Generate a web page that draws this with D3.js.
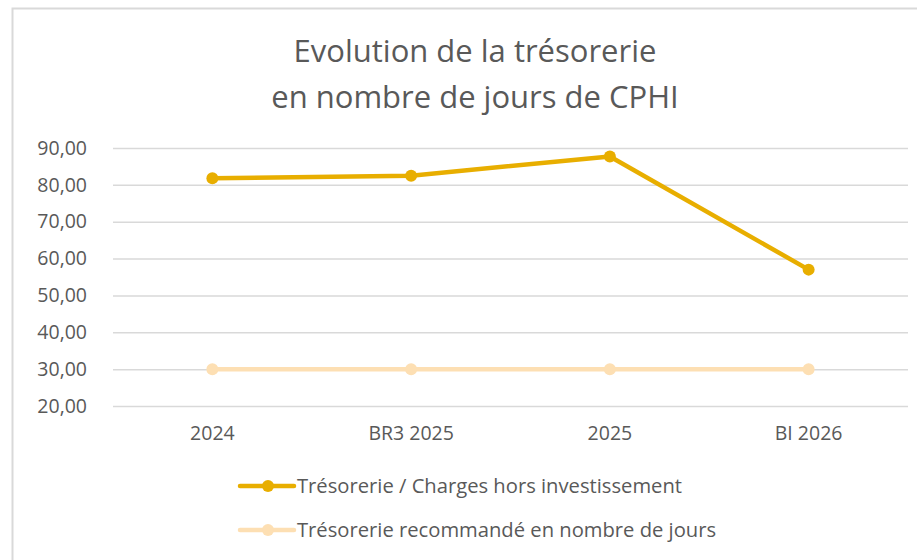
<!DOCTYPE html>
<html>
<head>
<meta charset="utf-8">
<script src="https://cdn.jsdelivr.net/npm/d3@7"></script>
<style>
    body { margin: 0; background: #fff; }
    svg { display: block; font-family: "Open Sans", sans-serif; }
    .grid-lines line { stroke: #d9d9d9; stroke-width: 1.5; }
    .yAxis text, .xAxis text { fill: #595959; font-size: 19.5px; font-family: "Open Sans", sans-serif; }
</style>
</head>
<body>
<div id="chart"></div>
<script>
// data
var categories = ["2024", "BR3 2025", "2025", "BI 2026"];
var tresorerie = [81.8, 82.5, 87.7, 57.0];
var recommande = [30, 30, 30, 30];
var yTicks = [20, 30, 40, 50, 60, 70, 80, 90];
var seriesNames = ["Trésorerie / Charges hors investissement", "Trésorerie recommandé en nombre de jours"];
var titleLines = ["Evolution de la trésorerie", "en nombre de jours de CPHI"];

var W = 917, H = 560;
var margin = { top: 148, right: 9, bottom: 154, left: 113 }
    , width = W - margin.left - margin.right
    , height = H - margin.top - margin.bottom;

var colors = ["#E8AE00", "#FDDFB3"];

var svg = d3.select("#chart").append("svg")
    .attr("width", W)
    .attr("height", H);

//Chart frame
svg.append("rect")
    .attr("x", 12.5).attr("y", 8.5)
    .attr("width", 1000).attr("height", 1000)
    .attr("fill", "#fff")
    .attr("stroke", "#d9d9d9")
    .attr("stroke-width", 2);

//Title
svg.append("g").selectAll("text")
    .data(titleLines)
    .enter().append("text")
    .attr("x", 475)
    .attr("y", (d, i) => 62 + i * 46)
    .attr("text-anchor", "middle")
    .attr("fill", "#595959")
    .style("font-size", "31px")
    .text(d => d);

var g = svg.append("g")
    .attr("transform", "translate(" + margin.left + "," + margin.top + ")");

var xScale = d3.scaleBand()
    .domain(categories)
    .range([0, width]);

var yScale = d3.scaleLinear()
    .domain([20, 90])
    .range([height, 0]);

var fmt = d => d3.format(".2f")(d).replace(".", ",");

//Horizontal grid lines
g.append("g")
    .attr("class", "grid-lines")
    .call(d3.axisLeft(yScale).tickValues(yTicks).tickSize(-width).tickFormat(""))
    .call(g => g.select(".domain").remove());

//Y axis labels
g.append("g")
    .attr("class", "yAxis")
    .call(d3.axisLeft(yScale).tickValues(yTicks).tickSize(0).tickPadding(26).tickFormat(fmt))
    .call(g => g.select(".domain").remove());

//X axis labels
g.append("g")
    .attr("class", "xAxis")
    .attr("transform", "translate(0," + height + ")")
    .call(d3.axisBottom(xScale).tickSize(0).tickPadding(20))
    .call(g => g.select(".domain").remove());

var line = d3.line()
    .x((d, i) => xScale(categories[i]) + xScale.bandwidth() / 2)
    .y(d => yScale(d));

[recommande, tresorerie].forEach(function (series) {
    var c = series === tresorerie ? colors[0] : colors[1];
    g.append("path")
        .datum(series)
        .attr("fill", "none")
        .attr("stroke", c)
        .attr("stroke-width", 4.5)
        .attr("stroke-linejoin", "round")
        .attr("d", line);
    g.selectAll(null)
        .data(series)
        .enter().append("circle")
        .attr("cx", (d, i) => xScale(categories[i]) + xScale.bandwidth() / 2)
        .attr("cy", d => yScale(d))
        .attr("r", 6)
        .attr("fill", c);
});

//Legend
var legend = svg.append("g").selectAll("g")
    .data(seriesNames)
    .enter().append("g")
    .attr("transform", (d, i) => "translate(240," + (486 + i * 44) + ")");

legend.append("line")
    .attr("x1", 0).attr("x2", 54)
    .attr("stroke", (d, i) => colors[i])
    .attr("stroke-width", 4.5)
    .attr("stroke-linecap", "round");

legend.append("circle")
    .attr("cx", 28)
    .attr("r", 6)
    .attr("fill", (d, i) => colors[i]);

legend.append("text")
    .attr("x", 57)
    .attr("dy", "0.35em")
    .attr("fill", "#595959")
    .style("font-size", "20.2px")
    .text(d => d);
</script>
</body>
</html>
